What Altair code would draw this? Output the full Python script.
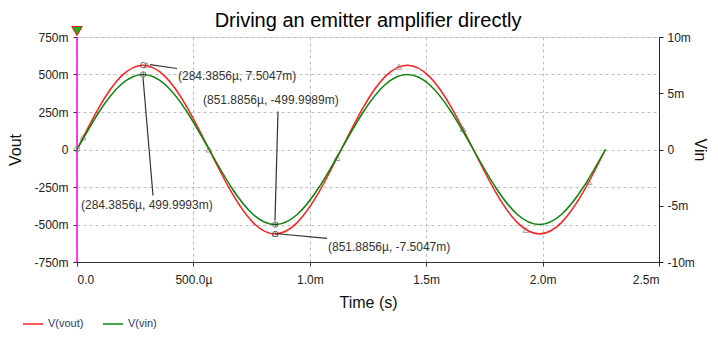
import altair as alt
import pandas as pd

# ---- data (times in ms, voltages in mV) ----
t_ms = [0.0, 0.0946, 0.1892, 0.2838, 0.3783, 0.4729, 0.5675, 0.6621, 0.7567, 0.8513,
        0.9458, 1.0404, 1.135, 1.2296, 1.3242, 1.4188, 1.5133, 1.6079, 1.7025, 1.7971,
        1.8917, 1.9863, 2.0808, 2.1754, 2.27]
vin_mv = [0, 250, 433, 500, 433, 250, 0, -250, -433, -500, -433, -250, 0,
          250, 433, 500, 433, 250, 0, -250, -433, -500, -433, -250, 0]
vout_mv = [0, 3.75, 6.50, 7.50, 6.50, 3.75, 0, -3.75, -6.50, -7.50, -6.50, -3.75, 0,
           3.75, 6.50, 7.50, 6.50, 3.75, 0, -3.75, -6.50, -7.50, -6.50, -3.75, 0]

tri_t = [0.026, 0.300, 0.567, 0.850, 1.117, 1.383, 1.658, 1.929, 2.199]
tri_v = [1.07, 7.50, 0.0, -7.50, -0.75, 7.36, 1.84, -7.14, -2.89]

cur_t = [0.2844, 0.8519]
cur_vin = [500.0, -500.0]
cur_vout = [7.5047, -7.5047]

lead_t = [0.3135, 0.2835, 0.8505, 0.8505]
lead_y = [566, 480, -473, -560]
lead_t2 = [0.4296, 0.3265, 0.8634, 1.0738]
lead_y2 = [540, -307, 253, -593]

lab_t = [0.4338, 0.0172, 0.5412, 1.078]
lab_y = [493, -373, 327, -653]
lab_text = ["(284.3856µ, 7.5047m)", "(284.3856µ, 499.9993m)",
            "(851.8856µ, -499.9989m)", "(851.8856µ, -7.5047m)"]

series_names = ["V(vout)", "V(vin)"]
series_colors = ["#ff2020", "#0a840a"]

FONT = "Liberation Sans"

green_df = pd.DataFrame({"t": t_ms, "y": vin_mv, "series": "V(vin)"})
red_df = pd.DataFrame({"t": t_ms, "yr": vout_mv, "series": "V(vout)"})
tri_df = pd.DataFrame({"t": tri_t, "yr": tri_v})
cur_g_df = pd.DataFrame({"t": cur_t, "y": cur_vin})
cur_r_df = pd.DataFrame({"t": cur_t, "yr": cur_vout})
lead_df = pd.DataFrame({"t": lead_t, "y": lead_y, "t2": lead_t2, "y2": lead_y2})
lab_df = pd.DataFrame({"t": lab_t, "y": lab_y, "txt": lab_text})
cursor_df = pd.DataFrame({"t": [0.0], "y": [-750], "y2": [750]})
top_df = pd.DataFrame({"t": [0.0], "y": [790]})
start_df = pd.DataFrame({"t": [0.0], "y": [0]})

x_axis = alt.Axis(
    title="Time (s)", values=[0, 0.5, 1, 1.5, 2, 2.5],
    labelExpr="datum.value == 0 ? '0.0' : datum.value == 0.5 ? '500.0µ' : format(datum.value, '.1f') + 'm'",
    grid=True, gridDash=[3, 3], gridColor="#bdbdbd", tickSize=4, tickColor="#333",
    domainColor="#333", labelFont=FONT, labelFontSize=12, labelColor="#222", labelPadding=8,
    titleFont=FONT, titleFontSize=16, titleFontWeight="normal", titleColor="#111", titlePadding=9,
)
X = alt.X("t:Q", scale=alt.Scale(domain=[0, 2.5], nice=False, zero=False), axis=x_axis)

yl_axis = alt.Axis(
    title="Vout", orient="left", values=[-750, -500, -250, 0, 250, 500, 750],
    labelExpr="datum.value == 0 ? '0' : datum.value + 'm'",
    grid=True, gridDash=[3, 3], gridColor="#bdbdbd", tickSize=4, tickColor="#333",
    domain=False, labelFont=FONT, labelFontSize=12, labelColor="#222", labelPadding=5,
    titleFont=FONT, titleFontSize=16, titleFontWeight="normal", titleColor="#111", titlePadding=10,
)
YL = alt.Y("y:Q", scale=alt.Scale(domain=[-750, 750], nice=False), axis=yl_axis)

yr_axis = alt.Axis(
    title="Vin", orient="right", values=[-10, -5, 0, 5, 10],
    labelExpr="datum.value == 0 ? '0' : datum.value + 'm'",
    grid=False, tickSize=4, tickColor="#222", domainColor="#222",
    labelFont=FONT, labelFontSize=12, labelColor="#222", labelPadding=4,
    titleFont=FONT, titleFontSize=16, titleFontWeight="normal", titleColor="#111",
    titleAngle=90, titlePadding=-3,
)
YR = alt.Y("yr:Q", scale=alt.Scale(domain=[-10, 10], nice=False), axis=yr_axis)

color = alt.Color(
    "series:N",
    scale=alt.Scale(domain=series_names, range=series_colors),
    legend=alt.Legend(title=None, orient="none", legendX=-55, legendY=276, direction="horizontal",
                      symbolType="stroke", symbolSize=400, symbolStrokeWidth=1.5,
                      labelFont=FONT, labelFontSize=11, labelColor="#2a3a6a", columnPadding=16),
)

red_line = alt.Chart(red_df).mark_line(interpolate="natural", strokeWidth=1.5).encode(x=X, y=YR, color=color)
red_tri = alt.Chart(tri_df).mark_point(shape="triangle-up", filled=False, size=35, color="#7a7a7a", strokeWidth=1).encode(x=X, y=YR)
red_cur = alt.Chart(cur_r_df).mark_point(shape="circle", filled=False, size=30, color="#333", strokeWidth=1).encode(x=X, y=YR)
right = alt.layer(red_line, red_tri, red_cur)

cursor = alt.Chart(cursor_df).mark_rule(color="#ff00ff", strokeWidth=1.5).encode(x=X, y=YL, y2="y2:Q")
top_mark = alt.Chart(top_df).mark_point(shape="triangle-down", filled=True, size=110, fill="#1fae1f", stroke="#ff0000", strokeWidth=1, opacity=1).encode(x=X, y=YL)
green_line = alt.Chart(green_df).mark_line(interpolate="natural", strokeWidth=1.5).encode(x=X, y=YL, color=color)
start_mark = alt.Chart(start_df).mark_point(shape="circle", filled=False, size=30, color="#22bb22", strokeWidth=1).encode(x=X, y=YL)
leaders = alt.Chart(lead_df).mark_rule(color="#333", strokeWidth=1.2).encode(x=X, y=YL, x2="t2:Q", y2="y2:Q")
g_cur = alt.Chart(cur_g_df).mark_point(shape="circle", filled=False, size=30, color="#333", strokeWidth=1).encode(x=X, y=YL)
g_cross = alt.Chart(cur_g_df).mark_point(shape="M-1,0L1,0M0,-1L0,1", filled=False, size=20, color="#333", strokeWidth=1).encode(x=X, y=YL)
labels = alt.Chart(lab_df).mark_text(align="left", baseline="middle", font=FONT, fontSize=12, color="#333").encode(x=X, y=YL, text="txt:N")
left = alt.layer(cursor, green_line, start_mark, leaders, g_cur, g_cross, labels, top_mark)

chart = alt.layer(right, left).resolve_scale(y="independent").properties(
    width=582, height=225,
    autosize=alt.AutoSizeParams(type="none"),
    padding={"left": 69, "top": 29, "right": 51, "bottom": 69},
    title=alt.Title("Driving an emitter amplifier directly", font=FONT, fontSize=20, fontWeight="normal",
                    color="#000", anchor="middle", frame="group", offset=4, dy=11),
).configure_view(stroke=None).configure(background="white")

chart.save("out.html", embed_options={"renderer": "svg", "actions": False})
